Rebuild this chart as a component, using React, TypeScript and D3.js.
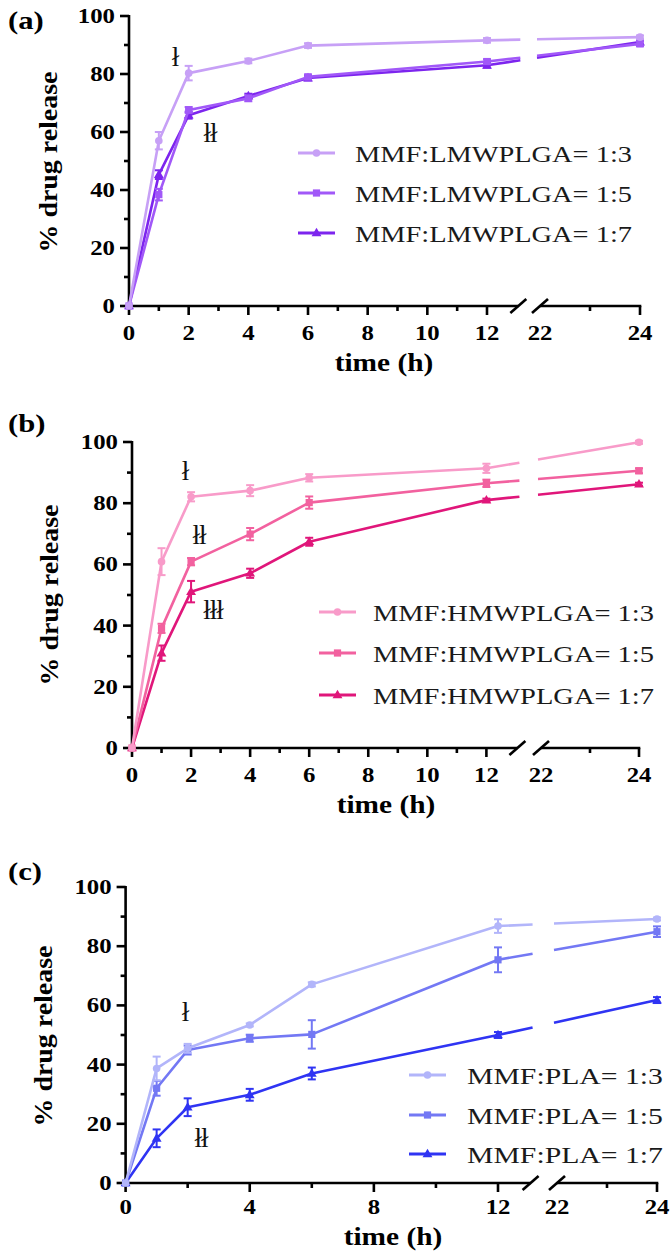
import React from "react";
import * as d3 from "d3";

// ---------- data ----------
const timeH = [0, 1, 2, 4, 6, 12, 24];
const yMajorTicks = [0, 20, 40, 60, 80, 100];
const yMinorTicks = [10, 30, 50, 70, 90];
const xMajorTicksAB = [0, 2, 4, 6, 8, 10, 12];
const xMinorTicksAB = [1, 3, 5, 7, 9, 11];
const xMajorTicksC = [0, 4, 8, 12];
const xMinorTicksC = [2, 6, 10];
const xRightLabels = [22, 24];
const xRightMinor = [23];
const xRightMajor = [24];

const labelsA = ["MMF:LMWPLGA= 1:3", "MMF:LMWPLGA= 1:5", "MMF:LMWPLGA= 1:7"];
const valuesA13 = [0, 57, 80.3, 84.5, 89.8, 91.6, 92.7];
const errA13 = [0, 3, 2.5, 0.8, 0.8, 0.8, 0.6];
const valuesA15 = [0, 38.4, 67.6, 71.6, 79, 84.3, 90.4];
const errA15 = [0, 2, 1, 1, 0.8, 0.8, 0.8];
const valuesA17 = [0, 45.3, 65.8, 72.4, 78.6, 83, 91];
const errA17 = [0, 1.5, 1.2, 0.8, 0.8, 0.8, 0.8];

const labelsB = ["MMF:HMWPLGA= 1:3", "MMF:HMWPLGA= 1:5", "MMF:HMWPLGA= 1:7"];
const valuesB13 = [0, 60.9, 82.1, 84.1, 88.3, 91.4, 99.9];
const errB13 = [0, 4.4, 1.5, 1.8, 1.2, 1.5, 0.5];
const valuesB15 = [0, 39.1, 60.9, 69.9, 80.2, 86.5, 90.6];
const errB15 = [0, 1.5, 1.2, 2, 2, 1.2, 0.8];
const valuesB17 = [0, 31, 51.1, 57.1, 67.4, 81, 86.2];
const errB17 = [0, 2.5, 3.5, 1.5, 1.3, 0.5, 0.5];

const labelsC = ["MMF:PLA= 1:3", "MMF:PLA= 1:5", "MMF:PLA= 1:7"];
const valuesC13 = [0, 38.7, 45.5, 53.4, 67.1, 86.8, 89.2];
const errC13 = [0, 4, 1.5, 0.5, 0.7, 2.3, 0.5];
const valuesC15 = [0, 32, 44.9, 48.9, 50.2, 75.4, 84.9];
const errC15 = [0, 2.5, 1.5, 1.2, 4.8, 4.2, 1.8];
const valuesC17 = [0, 15.1, 25.6, 29.8, 37, 50, 61.8];
const errC17 = [0, 3, 3, 2, 2, 1, 1];

const marks = ["ł", "łł", "łłł"];

// ---------- layout ----------
type Series = { label: string; values: number[]; err: number[]; color: string; shape: string };

const FONT = "'Liberation Serif', 'Times New Roman', serif";
const SX = 1.18;

const panels = [
  {
    tag: "(a)",
    tagY: 29,
    x0: 129, x12: 487, x22: 540, x24: 640,
    y0: 306, y100: 16,
    xMajor: xMajorTicksAB, xMinor: xMinorTicksAB,
    tickLabelDy: 34, titleDy: 65, titleX: 384,
    yLabelX: 57, yLabelY: 162,
    legend: { lx1: 298, lx2: 335, tx: 355, tw: 277, rows: [153, 193, 233] },
    annotations: [
      { text: marks[0], x: 175, y: 57 },
      { text: marks[1], x: 210, y: 133 },
    ],
    series: [
      { label: labelsA[0], values: valuesA13, err: errA13, color: "#c7a0f6", shape: "circle" },
      { label: labelsA[1], values: valuesA15, err: errA15, color: "#a158f8", shape: "square" },
      { label: labelsA[2], values: valuesA17, err: errA17, color: "#7d25ee", shape: "triangle" },
    ] as Series[],
  },
  {
    tag: "(b)",
    tagY: 432,
    x0: 132, x12: 486.4, x22: 541, x24: 639,
    y0: 748, y100: 442,
    xMajor: xMajorTicksAB, xMinor: xMinorTicksAB,
    tickLabelDy: 34, titleDy: 65, titleX: 386,
    yLabelX: 58, yLabelY: 595,
    legend: { lx1: 319, lx2: 356, tx: 373, tw: 281, rows: [612, 653, 695] },
    annotations: [
      { text: marks[0], x: 185, y: 471 },
      { text: marks[1], x: 199, y: 535 },
      { text: marks[2], x: 213, y: 610 },
    ],
    series: [
      { label: labelsB[0], values: valuesB13, err: errB13, color: "#f89bc9", shape: "circle" },
      { label: labelsB[1], values: valuesB15, err: errB15, color: "#f2619f", shape: "square" },
      { label: labelsB[2], values: valuesB17, err: errB17, color: "#e0167a", shape: "triangle" },
    ] as Series[],
  },
  {
    tag: "(c)",
    tagY: 880,
    x0: 125.6, x12: 498, x22: 557, x24: 657,
    y0: 1183, y100: 887,
    xMajor: xMajorTicksC, xMinor: xMinorTicksC,
    tickLabelDy: 31, titleDy: 62, titleX: 393,
    yLabelX: 52, yLabelY: 1036,
    legend: { lx1: 409, lx2: 446, tx: 467, tw: 196, rows: [1075, 1115, 1154] },
    annotations: [
      { text: marks[0], x: 185, y: 1012 },
      { text: marks[1], x: 201, y: 1138 },
    ],
    series: [
      { label: labelsC[0], values: valuesC13, err: errC13, color: "#b2b5fa", shape: "circle" },
      { label: labelsC[1], values: valuesC15, err: errC15, color: "#7378f4", shape: "square" },
      { label: labelsC[2], values: valuesC17, err: errC17, color: "#2f34f3", shape: "triangle" },
    ] as Series[],
  },
];

const BREAK_AT = 13.05;

function Marker({ shape, x, y, color }: { shape: string; x: number; y: number; color: string }) {
  if (shape === "circle") return <circle cx={x} cy={y} r={3.8} fill={color} />;
  if (shape === "square") return <rect x={x - 3.6} y={y - 3.6} width={7.2} height={7.2} fill={color} />;
  const d = d3.symbol(d3.symbolTriangle, 42)() as string;
  return <path d={d} transform={`translate(${x},${y + 0.5})`} fill={color} />;
}

function Panel({ p }: { p: (typeof panels)[number] }) {
  const s1 = d3.scaleLinear().domain([0, 12]).range([p.x0, p.x12]);
  const s2 = d3.scaleLinear().domain([22, 24]).range([p.x22, p.x24]);
  const xs = (t: number) => (t <= BREAK_AT ? s1(t) : s2(t));
  const ys = d3.scaleLinear().domain([0, 100]).range([p.y0, p.y100]);
  const slash1 = s1(BREAK_AT);
  const slash2 = s2(22);
  const g1 = slash1 + 2;
  const g2 = slash2 - 3;
  const line = d3.line<[number, number]>().x((d) => d[0]).y((d) => d[1]);
  const boldText = { fontFamily: FONT, fontWeight: 700 as const };

  const drawOrder = [2, 1, 0];

  return (
    <g>
      {/* panel tag */}
      <text transform={`translate(8,${p.tagY}) scale(${SX},1)`} fontSize={26} {...boldText}>
        {p.tag}
      </text>
      {/* y label */}
      <text
        transform={`translate(${p.yLabelX},${p.yLabelY}) rotate(-90)`}
        textAnchor="middle"
        fontSize={25}
        textLength={181}
        lengthAdjust="spacingAndGlyphs"
        {...boldText}
      >
        % drug release
      </text>

      {/* axes */}
      <g stroke="#000" strokeWidth={2.6} fill="none" strokeLinecap="butt">
        <line x1={p.x0} y1={ys(100) - 1} x2={p.x0} y2={p.y0} />
        <line x1={p.x0 - 1.3} y1={p.y0} x2={slash1} y2={p.y0} />
        <line x1={slash2} y1={p.y0} x2={s2(24) + 1.3} y2={p.y0} />
        <line x1={slash1 - 8} y1={p.y0 + 7} x2={slash1 + 8} y2={p.y0 - 7} />
        <line x1={slash2 - 8} y1={p.y0 + 7} x2={slash2 + 8} y2={p.y0 - 7} />
        {yMajorTicks.map((v) => (
          <line key={"ym" + v} x1={p.x0 - 9} x2={p.x0} y1={ys(v)} y2={ys(v)} />
        ))}
        {yMinorTicks.map((v) => (
          <line key={"yn" + v} x1={p.x0 - 5} x2={p.x0} y1={ys(v)} y2={ys(v)} />
        ))}
        {p.xMajor.map((t) => (
          <line key={"xm" + t} x1={s1(t)} x2={s1(t)} y1={p.y0} y2={p.y0 + 9} />
        ))}
        {p.xMinor.map((t) => (
          <line key={"xn" + t} x1={s1(t)} x2={s1(t)} y1={p.y0} y2={p.y0 + 5} />
        ))}
        {xRightMajor.map((t) => (
          <line key={"xrm" + t} x1={s2(t)} x2={s2(t)} y1={p.y0} y2={p.y0 + 9} />
        ))}
        {xRightMinor.map((t) => (
          <line key={"xrn" + t} x1={s2(t)} x2={s2(t)} y1={p.y0} y2={p.y0 + 5} />
        ))}
      </g>

      {/* tick labels */}
      {yMajorTicks.map((v) => (
        <text
          key={"yl" + v}
          transform={`translate(${p.x0 - 14},${ys(v) + 7}) scale(${SX},1)`}
          textAnchor="end"
          fontSize={21}
          {...boldText}
        >
          {v}
        </text>
      ))}
      {p.xMajor.map((t) => (
        <text
          key={"xl" + t}
          transform={`translate(${s1(t)},${p.y0 + p.tickLabelDy}) scale(${SX},1)`}
          textAnchor="middle"
          fontSize={21}
          {...boldText}
        >
          {t}
        </text>
      ))}
      {xRightLabels.map((t) => (
        <text
          key={"xr" + t}
          transform={`translate(${s2(t)},${p.y0 + p.tickLabelDy}) scale(${SX},1)`}
          textAnchor="middle"
          fontSize={21}
          {...boldText}
        >
          {t}
        </text>
      ))}
      <text
        transform={`translate(${p.titleX},${p.y0 + p.titleDy}) scale(1.13,1)`}
        textAnchor="middle"
        fontSize={26}
        {...boldText}
      >
        time (h)
      </text>

      {/* series */}
      {drawOrder.map((si) => {
        const s = p.series[si];
        const pts: [number, number][] = timeH.map((t, i) => [xs(t), ys(s.values[i])]);
        const left = pts.slice(0, 6);
        const a = pts[5];
        const b = pts[6];
        const interp = (x: number): [number, number] => [x, a[1] + ((b[1] - a[1]) * (x - a[0])) / (b[0] - a[0])];
        return (
          <g key={"s" + si}>
            <path d={line(left) as string} stroke={s.color} strokeWidth={2.6} fill="none" strokeLinejoin="round" />
            <path d={line([a, interp(g1)]) as string} stroke={s.color} strokeWidth={2.6} fill="none" />
            <path d={line([interp(g2), b]) as string} stroke={s.color} strokeWidth={2.6} fill="none" />
            {timeH.map((t, i) =>
              s.err[i] > 0 ? (
                <g key={"e" + i} stroke={s.color} strokeWidth={2}>
                  <line x1={xs(t)} x2={xs(t)} y1={ys(s.values[i] - s.err[i])} y2={ys(s.values[i] + s.err[i])} />
                  <line x1={xs(t) - 4} x2={xs(t) + 4} y1={ys(s.values[i] - s.err[i])} y2={ys(s.values[i] - s.err[i])} />
                  <line x1={xs(t) - 4} x2={xs(t) + 4} y1={ys(s.values[i] + s.err[i])} y2={ys(s.values[i] + s.err[i])} />
                </g>
              ) : null
            )}
            {timeH.map((t, i) => (
              <Marker key={"m" + i} shape={s.shape} x={xs(t)} y={ys(s.values[i])} color={s.color} />
            ))}
          </g>
        );
      })}

      {/* annotations */}
      {p.annotations.map((a, i) => (
        <text
          key={"an" + i}
          x={a.x}
          y={a.y + 9}
          textAnchor="middle"
          fontSize={27}
          fontFamily={FONT}
          fill="#111"
          letterSpacing={-1}
        >
          {a.text}
        </text>
      ))}

      {/* legend */}
      {p.series.map((s, i) => {
        const y = p.legend.rows[i];
        return (
          <g key={"lg" + i}>
            <line x1={p.legend.lx1} x2={p.legend.lx2} y1={y} y2={y} stroke={s.color} strokeWidth={2.8} />
            <Marker shape={s.shape} x={(p.legend.lx1 + p.legend.lx2) / 2} y={y} color={s.color} />
            <text
              x={p.legend.tx}
              y={y + 8.5}
              fontSize={24}
              fontFamily={FONT}
              fill="#1a1a1a"
              textLength={p.legend.tw}
              lengthAdjust="spacingAndGlyphs"
            >
              {s.label}
            </text>
          </g>
        );
      })}
    </g>
  );
}

export default function App() {
  return (
    <svg
      width={672}
      height={1255}
      viewBox="0 0 672 1255"
      style={{ position: "absolute", left: 0, top: 0, background: "#fff", display: "block" }}
    >
      <rect x={0} y={0} width={672} height={1255} fill="#fff" />
      {panels.map((p) => (
        <Panel key={p.tag} p={p} />
      ))}
    </svg>
  );
}
